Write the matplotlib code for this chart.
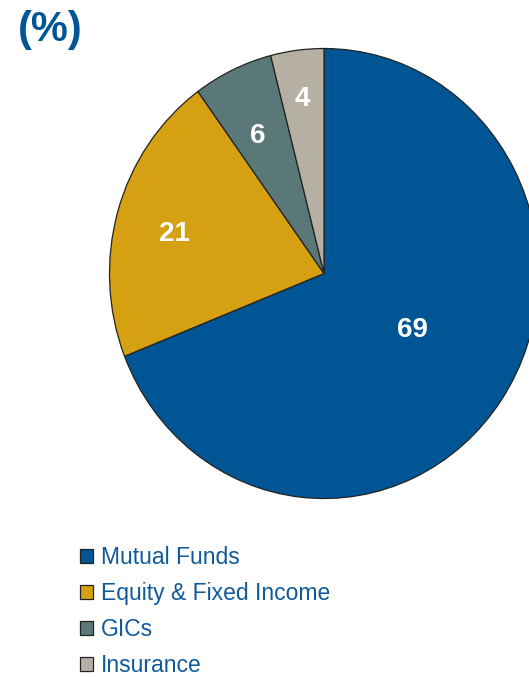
import numpy as np
import matplotlib
matplotlib.use("Agg")
import matplotlib.pyplot as plt
from matplotlib.transforms import offset_copy

categories = ["Mutual Funds", "Equity & Fixed Income", "GICs", "Insurance"]
values = [69, 21, 6, 4]
colors = ["#005694", "#D5A011", "#5A7878", "#B6B0A4"]
label_dist = [0.475, 0.72, 0.693, 0.792]
label_angle_shift = [4.0, 1.2, 1.2, 0.2]

plt.rcParams['font.family'] = ['Liberation Sans', 'DejaVu Sans']

W, H = 529, 677
fig = plt.figure(figsize=(W / 100, H / 100), dpi=100)
# pie bounding box in pixels (slightly elliptical as in reference)
left, right, top, bottom = 109.5, 538.5, 48.5, 498.5
ax = fig.add_axes([left / W, 1 - bottom / H, (right - left) / W, (bottom - top) / H])

wedges, _ = ax.pie(values, colors=colors, startangle=90, counterclock=False,
                   wedgeprops=dict(edgecolor="#222222", linewidth=0.9))
ax.set_aspect('auto')
ax.set_xlim(-1, 1)
ax.set_ylim(-1, 1)
ax.axis('off')

trans = offset_copy(ax.transData, fig=fig, x=0, y=-2.5, units='dots')
for w, v, d, s in zip(wedges, values, label_dist, label_angle_shift):
    mid = np.deg2rad((w.theta1 + w.theta2) / 2 + s)
    ax.text(d * np.cos(mid), d * np.sin(mid), f"{v}", color="white",
            fontsize=20, fontweight="bold", ha="center", va="center",
            transform=trans)

fig.text(18 / W, 1 - 30 / H, "(%)", color="#005694", fontsize=30,
         fontweight="bold", ha="left", va="center")

leg = ax.legend(wedges, categories, loc="upper left",
                bbox_to_anchor=(80 / W, 1 - 546 / H), bbox_transform=fig.transFigure,
                frameon=False, fontsize=16.5, handlelength=0.57, handleheight=0.57,
                handletextpad=0.35, labelspacing=0.57, borderaxespad=0, borderpad=0)
for t in leg.get_texts():
    t.set_color("#10599A")

fig.savefig("out.png", dpi=100)
